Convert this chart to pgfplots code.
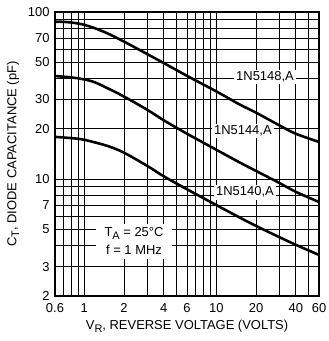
\documentclass[border=0pt]{standalone}
\usepackage{pgfplots}
\pgfplotsset{compat=1.18}
\usepackage{fontspec}
\setmainfont{Liberation Sans}
\newcommand{\sub}[1]{\raisebox{-0.4ex}{\fontsize{11}{11}\selectfont #1}}
\begin{document}
\begin{tikzpicture}
\fontsize{13}{15}\selectfont
\useasboundingbox (-55bp,-45bp) rectangle (274bp,296bp);
\begin{axis}[
  at={(0,0)}, anchor=south west,
  scale only axis,
  width=264bp, height=284bp,
  xmode=log, ymode=log,
  xmin=0.6, xmax=60, ymin=2, ymax=100,
  xtick={0.6,0.7,0.8,0.9,1,2,3,4,5,6,7,8,9,10,20,30,40,50,60},
  xticklabels={0.6,,,,1,2,,4,,6,,,,10,20,,40,,60},
  ytick={2,3,4,5,6,7,8,9,10,20,30,40,50,60,70,80,90,100},
  yticklabels={2,3,,5,,7,,,10,20,30,,50,,70,,,100},
  minor tick num=0,
  major tick length=0pt,
  grid=major,
  major grid style={black, line width=0.8pt},
  axis line style={black, line width=1.6pt},
  ticklabel style={font=\fontsize{13}{15}\selectfont},
  xticklabel style={yshift=-3pt},
  yticklabel style={xshift=-1pt},
  xlabel={V\sub{R}, REVERSE VOLTAGE (VOLTS)},
  ylabel={C\sub{T}, DIODE CAPACITANCE (pF)},
  label style={font=\fontsize{13}{15}\selectfont},
  xlabel style={yshift=1pt},
  ylabel style={yshift=0pt},
  clip=true,
]
\addplot[black, line width=2.6pt, smooth] coordinates {
 (0.6,87.5) (0.7,87.3) (0.8,86.5) (0.9,85.3) (1,83.8) (1.2,80) (1.5,74.5) (2,66.5) (3,56) (4,49.5) (6,41.5) (10,33.5) (15,28) (20,25) (30,21) (40,18.7) (60,16.7)};
\addplot[black, line width=2.6pt, smooth] coordinates {
 (0.6,41.4) (0.8,40.6) (1,39.5) (1.2,38) (1.5,35) (2,31.2) (3,26) (4,22.5) (6,18.7) (10,15) (15,12.6) (20,11.2) (30,9.5) (40,8.4) (60,7.3)};
\addplot[black, line width=2.6pt, smooth] coordinates {
 (0.6,17.9) (0.8,17.6) (1,17.2) (1.5,15.8) (2,14.4) (3,12) (4,10.4) (6,8.7) (10,7.0) (15,5.9) (20,5.25) (30,4.5) (40,4.05) (60,3.52)};
\node[fill=white, inner sep=2pt] at (axis cs:23.4,40.8) {1N5148,A};
\node[fill=white, inner sep=2pt] at (axis cs:15.9,19.4) {1N5144,A};
\node[fill=white, inner sep=2pt] at (axis cs:16.5,8.36) {1N5140,A};
\node[fill=white, inner xsep=9pt, inner ysep=4pt, align=center] at (axis cs:2.38,4.26) {T\sub{A} = 25°C\\[3pt]f = 1 MHz};
\end{axis}
\end{tikzpicture}
\end{document}
